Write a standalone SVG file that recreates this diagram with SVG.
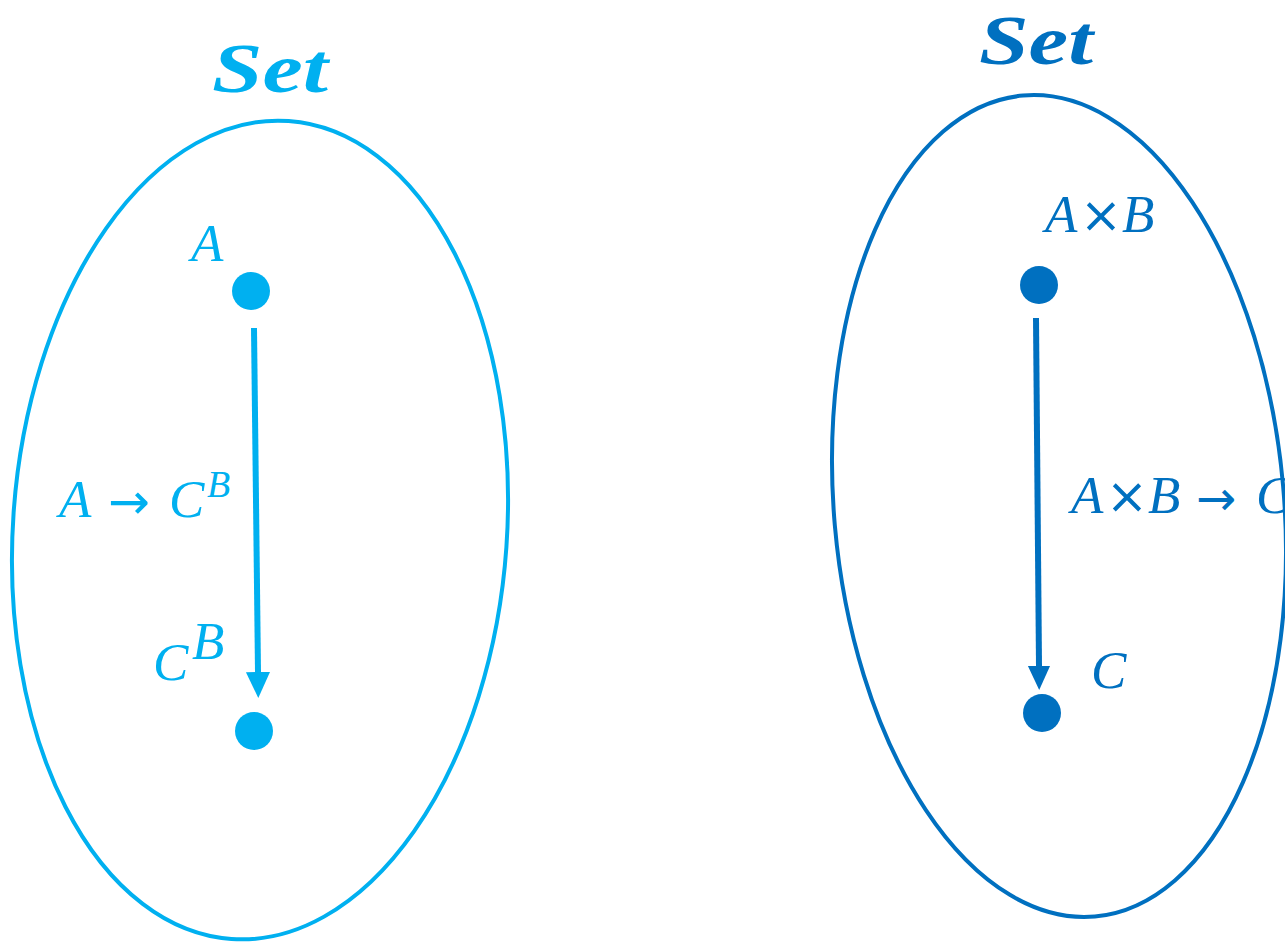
<svg xmlns="http://www.w3.org/2000/svg" width="1285" height="943" viewBox="0 0 1285 943">
<defs>
<style>
.t{font-family:"Liberation Serif","DejaVu Serif",serif;font-style:italic;font-size:53px}
.s{font-family:"Liberation Serif","DejaVu Serif",serif;font-style:italic;font-weight:bold;font-size:70px}
.o{font-family:"DejaVu Sans","Liberation Serif",sans-serif;font-style:normal}
.l{fill:#00B0F0}
.r{fill:#0070C0}
</style>
<marker id="ahL" markerUnits="userSpaceOnUse" markerWidth="26" markerHeight="28" refX="0" refY="13" orient="auto" viewBox="0 0 28 26"><path d="M0,0 L28,13 L0,26 Z" fill="#00B0F0"/></marker>
<marker id="ahR" markerUnits="userSpaceOnUse" markerWidth="24" markerHeight="26" refX="0" refY="12" orient="auto" viewBox="0 0 26 24"><path d="M0,0 L26,12 L0,24 Z" fill="#0070C0"/></marker>
</defs>
<rect width="1285" height="943" fill="#fff"/>
<g id="setLeft">
<ellipse cx="260" cy="530" rx="247" ry="410" transform="rotate(4 260 530)" fill="none" stroke="#00B0F0" stroke-width="4"/>
<text class="s l" x="212" y="92" textLength="116" lengthAdjust="spacingAndGlyphs">Set</text>
</g>
<g id="setRight">
<ellipse cx="1059" cy="506" rx="225" ry="412" transform="rotate(-5 1059 506)" fill="none" stroke="#0070C0" stroke-width="4"/>
<text class="s r" x="979" y="64" textLength="114" lengthAdjust="spacingAndGlyphs">Set</text>
</g>
<g id="nodeA">
<circle cx="251" cy="291" r="19" fill="#00B0F0"/>
<text class="t l" x="191" y="261">A</text>
</g>
<g id="nodeCB">
<circle cx="254" cy="731" r="19" fill="#00B0F0"/>
<text class="t l" x="153" y="680">C</text>
<text class="t l" x="192" y="659" font-size="38">B</text>
</g>
<g id="nodeAxB">
<circle cx="1039" cy="285" r="19" fill="#0070C0"/>
<text class="t r" x="1045" y="232">A<tspan class="o" x="1080" font-size="50">×</tspan><tspan x="1122">B</tspan></text>
</g>
<g id="nodeC">
<circle cx="1042" cy="713" r="19" fill="#0070C0"/>
<text class="t r" x="1091" y="688">C</text>
</g>
<g id="connectors">
<line x1="254" y1="328" x2="258" y2="672" stroke="#00B0F0" stroke-width="6" marker-end="url(#ahL)"/>
<line x1="1036" y1="318" x2="1039" y2="666" stroke="#0070C0" stroke-width="6" marker-end="url(#ahR)"/>
<text class="t l" x="59" y="517">A<tspan class="o" x="108" y="519" font-size="50">→</tspan><tspan x="169" y="517">C</tspan><tspan x="207" y="497" font-size="38">B</tspan></text>
<text class="t r" x="1071" y="513">A<tspan class="o" x="1106" font-size="50">×</tspan><tspan x="1148">B</tspan><tspan class="o" x="1196" y="515" font-size="48">→</tspan><tspan x="1256" y="513">C</tspan></text>
</g>
</svg>
